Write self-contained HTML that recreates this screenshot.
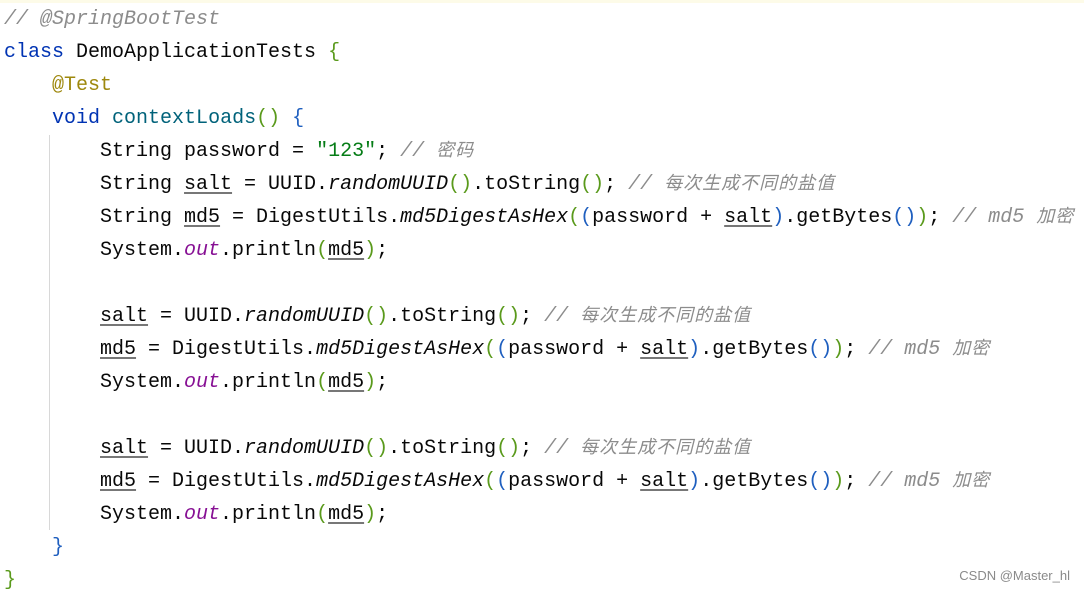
<!DOCTYPE html>
<html><head><meta charset="utf-8"><style>
html,body{margin:0;padding:0;background:#fff;width:1084px;height:594px;overflow:hidden;position:relative}
.top{position:absolute;left:0;top:0;width:1084px;height:3px;background:#fdfbe8}
pre{position:absolute;left:4px;top:3px;margin:0;font-family:"Liberation Mono",monospace;font-size:20px;line-height:33px;color:#080808}
.k{color:#0033b3}.m{color:#00627a}.a{color:#9e880d}.s{color:#067d17}
.c{color:#8c8c8c;font-style:italic}.o{color:#871094;font-style:italic}.i{font-style:italic}
.u{text-decoration:underline;text-decoration-color:#777;text-underline-offset:3px}
.g{color:#5a9a1c}.b{color:#1f5fbf}
.z{font-family:"Noto Sans CJK SC",sans-serif;font-size:18px;line-height:0;letter-spacing:1px}
.guide{position:absolute;left:49px;top:135px;width:1px;height:395px;background:#d8d8d8}
.wm{position:absolute;right:14px;top:568px;font-family:"Liberation Sans",sans-serif;font-size:13px;color:#8a8a8a}
</style></head><body>
<div class="top"></div>
<div class="guide"></div>
<pre><span class="c">// @SpringBootTest</span>
<span class="k">class</span> DemoApplicationTests <span class="g">{</span>
    <span class="a">@Test</span>
    <span class="k">void</span> <span class="m">contextLoads</span><span class="g">()</span> <span class="b">{</span>
        String password = <span class="s">"123"</span>; <span class="c">// <span class="z">密码</span></span>
        String <span class="u">salt</span> = UUID.<span class="i">randomUUID</span><span class="g">()</span>.toString<span class="g">()</span>; <span class="c">// <span class="z">每次生成不同的盐值</span></span>
        String <span class="u">md5</span> = DigestUtils.<span class="i">md5DigestAsHex</span><span class="g">(</span><span class="b">(</span>password + <span class="u">salt</span><span class="b">)</span>.getBytes<span class="b">()</span><span class="g">)</span>; <span class="c">// md5 <span class="z">加密</span></span>
        System.<span class="o">out</span>.println<span class="g">(</span><span class="u">md5</span><span class="g">)</span>;

        <span class="u">salt</span> = UUID.<span class="i">randomUUID</span><span class="g">()</span>.toString<span class="g">()</span>; <span class="c">// <span class="z">每次生成不同的盐值</span></span>
        <span class="u">md5</span> = DigestUtils.<span class="i">md5DigestAsHex</span><span class="g">(</span><span class="b">(</span>password + <span class="u">salt</span><span class="b">)</span>.getBytes<span class="b">()</span><span class="g">)</span>; <span class="c">// md5 <span class="z">加密</span></span>
        System.<span class="o">out</span>.println<span class="g">(</span><span class="u">md5</span><span class="g">)</span>;

        <span class="u">salt</span> = UUID.<span class="i">randomUUID</span><span class="g">()</span>.toString<span class="g">()</span>; <span class="c">// <span class="z">每次生成不同的盐值</span></span>
        <span class="u">md5</span> = DigestUtils.<span class="i">md5DigestAsHex</span><span class="g">(</span><span class="b">(</span>password + <span class="u">salt</span><span class="b">)</span>.getBytes<span class="b">()</span><span class="g">)</span>; <span class="c">// md5 <span class="z">加密</span></span>
        System.<span class="o">out</span>.println<span class="g">(</span><span class="u">md5</span><span class="g">)</span>;
    <span class="b">}</span>
<span class="g">}</span></pre>
<div class="wm">CSDN @Master_hl</div>
</body></html>
